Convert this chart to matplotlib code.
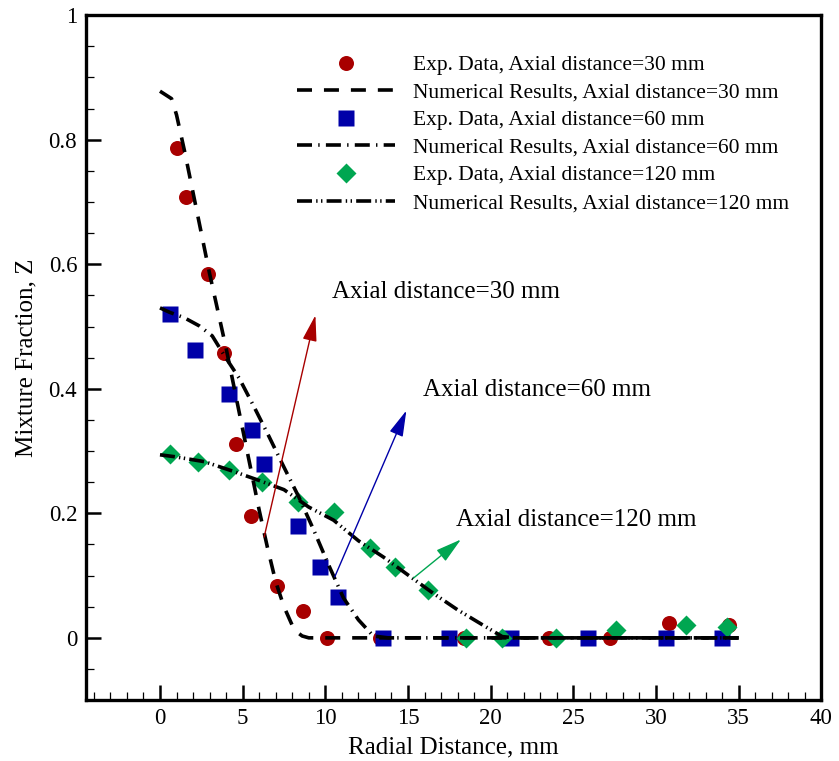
import numpy as np
import matplotlib
matplotlib.use("Agg")
import matplotlib.pyplot as plt
from matplotlib.ticker import MultipleLocator, FuncFormatter
from matplotlib.lines import Line2D

plt.rcParams['font.family'] = ['Liberation Serif', 'DejaVu Serif']
plt.rcParams['lines.scale_dashes'] = False

# Experimental data (radial distance in mm, mixture fraction)
r_exp30 = [1.05, 1.6, 2.9, 3.9, 4.6, 5.5, 7.1, 8.65, 10.1, 13.3, 18.4, 23.5, 27.2, 30.8, 34.4]
z_exp30 = [0.786, 0.708, 0.584, 0.457, 0.311, 0.196, 0.083, 0.043, 0.0, 0.0, 0.0, 0.0, 0.0, 0.024, 0.020]

r_exp60 = [0.58, 2.12, 4.19, 5.55, 6.3, 8.34, 9.65, 10.75, 13.5, 17.5, 21.2, 25.9, 30.6, 34.0]
z_exp60 = [0.520, 0.462, 0.392, 0.334, 0.279, 0.180, 0.114, 0.066, 0.0, 0.0, 0.0, 0.0, 0.0, 0.0]

r_exp120 = [0.58, 2.32, 4.19, 6.16, 8.34, 10.51, 12.68, 14.19, 16.23, 18.5, 20.7, 23.96, 27.6, 31.8, 34.3]
z_exp120 = [0.295, 0.282, 0.269, 0.250, 0.218, 0.202, 0.144, 0.114, 0.077, 0.0, 0.0, 0.0, 0.013, 0.020, 0.018]

# Numerical results
r_num30 = [0.0, 0.7, 1.0, 1.5, 2.0, 2.5, 3.0, 3.5, 4.0, 4.5, 5.0, 5.5, 6.0, 6.5, 7.0, 7.5, 8.0, 8.3, 8.6, 9.0, 10.0, 35.0]
z_num30 = [0.878, 0.866, 0.84, 0.78, 0.715, 0.65, 0.585, 0.525, 0.465, 0.40, 0.335, 0.27, 0.205, 0.145, 0.09, 0.05, 0.02, 0.009, 0.003, 0.0, 0.0, 0.0]

r_num60 = [0.0, 0.57, 1.48, 2.38, 3.16, 3.88, 4.79, 5.69, 6.6, 7.5, 8.4, 9.3, 10.2, 11.1, 12.0, 12.9, 13.8, 35.0]
z_num60 = [0.530, 0.523, 0.514, 0.501, 0.485, 0.454, 0.417, 0.371, 0.323, 0.274, 0.226, 0.173, 0.117, 0.064, 0.029, 0.003, 0.0, 0.0]

r_num120 = [0.0, 0.87, 2.68, 4.37, 5.87, 7.5, 9.0, 10.5, 12.0, 13.5, 15.0, 16.5, 18.0, 19.5, 20.7, 21.5, 35.0]
z_num120 = [0.294, 0.291, 0.283, 0.268, 0.254, 0.238, 0.210, 0.189, 0.156, 0.130, 0.101, 0.072, 0.045, 0.021, 0.002, 0.0, 0.0]

labels = ["Exp. Data, Axial distance=30 mm",
          "Numerical Results, Axial distance=30 mm",
          "Exp. Data, Axial distance=60 mm",
          "Numerical Results, Axial distance=60 mm",
          "Exp. Data, Axial distance=120 mm",
          "Numerical Results, Axial distance=120 mm"]

# Arrows pointing at each profile: (tail, tip) and the label position
arrow_tails = [(6.3, 0.162), (10.57, 0.098), (15.33, 0.096)]
arrow_tips = [(9.4, 0.518), (14.9, 0.365), (18.2, 0.158)]
arrow_texts = ["Axial distance=30 mm", "Axial distance=60 mm", "Axial distance=120 mm"]
text_pos = [(10.39, 0.546), (15.93, 0.388), (17.88, 0.180)]

red = '#A80000'
blue = '#0000A8'
green = '#00A651'
colors = [red, blue, green]

ls30 = (0, (10.8, 8.6))
ls60 = (0, (10.8, 4.5, 1.0, 4.5))
ls120 = (0, (10.8, 3.0, 1.0, 2.5, 1.0, 3.0))

fig = plt.figure(figsize=(8.39, 7.61), dpi=100)
ax = fig.add_axes([0.102, 0.080, 0.877, 0.900])

ax.plot(r_exp30, z_exp30, 'o', color=red, ms=10.8, mec='none', zorder=3)
ax.plot(r_exp60, z_exp60, 's', color=blue, ms=11.5, mec='none', zorder=3)
ax.plot(r_exp120, z_exp120, 'D', color=green, ms=10.0, mec='none', zorder=3)

ax.plot(r_num30, z_num30, color='black', lw=2.6, linestyle=ls30, zorder=4)
ax.plot(r_num60, z_num60, color='black', lw=2.6, linestyle=ls60, zorder=4)
ax.plot(r_num120, z_num120, color='black', lw=2.6, linestyle=ls120, zorder=4)

for tail, tip, c in zip(arrow_tails, arrow_tips, colors):
    ax.annotate('', xy=tip, xytext=tail,
                arrowprops=dict(arrowstyle='-|>,head_length=0.8,head_width=0.22',
                                mutation_scale=20, color=c, lw=1.0,
                                shrinkA=0, shrinkB=0), zorder=5)
for txt, pos in zip(arrow_texts, text_pos):
    ax.text(pos[0], pos[1], txt, fontsize=18, ha='left', va='baseline')

handles = [
    Line2D([], [], marker='o', ls='none', color=red, ms=10.8, mec='none'),
    Line2D([], [], color='black', lw=2.6, linestyle=ls30),
    Line2D([], [], marker='s', ls='none', color=blue, ms=11.5, mec='none'),
    Line2D([], [], color='black', lw=2.6, linestyle=ls60),
    Line2D([], [], marker='D', ls='none', color=green, ms=10.0, mec='none'),
    Line2D([], [], color='black', lw=2.6, linestyle=ls120),
]
fig.legend(handles, labels, loc='upper left', bbox_to_anchor=(297 / 839, 1 - 55 / 761),
           frameon=False, fontsize=15.5, handlelength=4.55, handletextpad=0.85,
           labelspacing=0.35, borderpad=0, borderaxespad=0)

ax.set_xlim(-4.5, 40)
ax.set_ylim(-0.1, 1)
ax.xaxis.set_major_locator(MultipleLocator(5))
ax.xaxis.set_minor_locator(MultipleLocator(1))
ax.yaxis.set_major_locator(MultipleLocator(0.2))
ax.yaxis.set_minor_locator(MultipleLocator(0.05))
ax.yaxis.set_major_formatter(FuncFormatter(lambda v, p: '%g' % round(v, 2)))
ax.xaxis.set_major_formatter(FuncFormatter(lambda v, p: '%g' % v))

ax.tick_params(which='both', direction='in', top=False, right=False, labelsize=16.5)
ax.tick_params(which='major', length=10.8, width=1.8, pad=6)
ax.tick_params(which='minor', length=5.8, width=0.9)
for sp in ax.spines.values():
    sp.set_linewidth(2.4)

ax.set_xlabel("Radial Distance, mm", fontsize=18, labelpad=5)
ax.set_ylabel("Mixture Fraction, Z", fontsize=18, labelpad=8)

fig.savefig('out.png', dpi=100)
